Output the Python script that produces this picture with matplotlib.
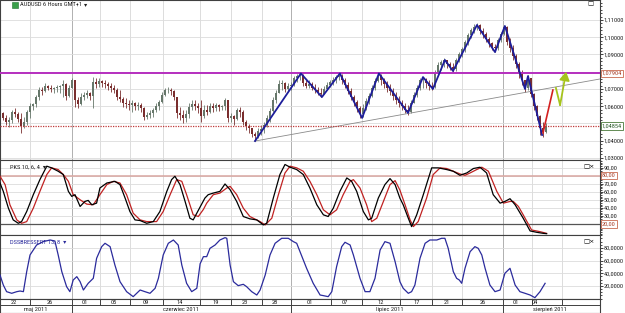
import matplotlib
matplotlib.use("Agg")
import matplotlib.pyplot as plt
import matplotlib.transforms as mtransforms
from matplotlib import font_manager
from matplotlib.patches import Rectangle
from matplotlib.ticker import FuncFormatter, MultipleLocator
import numpy as np


def pick_font(names):
    for n in names:
        try:
            font_manager.findfont(font_manager.FontProperties(family=n), fallback_to_default=False)
            return n
        except Exception:
            pass
    return 'DejaVu Sans'


FONT = pick_font(['Liberation Sans Narrow', 'Roboto Condensed', 'Open Sans Condensed', 'Liberation Sans'])
plt.rcParams['font.family'] = [FONT, 'DejaVu Sans']
fs = 4.6 if 'Narrow' in FONT or 'Condensed' in FONT else 3.9

# AUDUSD 6h bars (bar index = position on the time axis)
first_open = 1.0636
closes = [
    1.0561, 1.0532, 1.0508, 1.0520, 1.0566, 1.0555, 1.0526, 1.0485, 1.0508, 1.0566,
    1.0601, 1.0613, 1.0653, 1.0694, 1.0688, 1.0717, 1.0706, 1.0700, 1.0706, 1.0711,
    1.0717, 1.0729, 1.0659, 1.0706, 1.0752, 1.0636, 1.0613, 1.0653, 1.0665, 1.0677,
    1.0659, 1.0740, 1.0729, 1.0746, 1.0735, 1.0729, 1.0717, 1.0706, 1.0694, 1.0653,
    1.0642, 1.0619, 1.0613, 1.0607, 1.0619, 1.0601, 1.0607, 1.0590, 1.0537, 1.0549,
    1.0561, 1.0578, 1.0601, 1.0624, 1.0665, 1.0694, 1.0694, 1.0688, 1.0653, 1.0561,
    1.0549, 1.0532, 1.0555, 1.0595, 1.0613, 1.0601, 1.0590, 1.0543, 1.0578, 1.0566,
    1.0601, 1.0590, 1.0607, 1.0595, 1.0601, 1.0636, 1.0532, 1.0543, 1.0526, 1.0578,
    1.0566, 1.0508, 1.0485, 1.0474, 1.0439, 1.0427, 1.0456, 1.0468, 1.0491, 1.0532,
    1.0572, 1.0636, 1.0677, 1.0729, 1.0735, 1.0700, 1.0717, 1.0723, 1.0764, 1.0775,
    1.0781, 1.0735, 1.0717, 1.0729, 1.0706, 1.0694, 1.0677, 1.0671, 1.0700, 1.0723,
    1.0740, 1.0752, 1.0769, 1.0775, 1.0752, 1.0723, 1.0688, 1.0653, 1.0624, 1.0590,
    1.0555, 1.0590, 1.0630, 1.0659, 1.0706, 1.0746, 1.0775, 1.0752, 1.0729, 1.0706,
    1.0688, 1.0659, 1.0636, 1.0619, 1.0601, 1.0578, 1.0566, 1.0619, 1.0665, 1.0706,
    1.0752, 1.0758, 1.0735, 1.0717, 1.0711, 1.0793, 1.0839, 1.0856, 1.0868, 1.0845,
    1.0827, 1.0816, 1.0868, 1.0903, 1.0932, 1.0972, 1.1013, 1.1042, 1.1059, 1.1071,
    1.1036, 1.1019, 1.0990, 1.0967, 1.0943, 1.0938, 1.0984, 1.1019, 1.1059, 1.0972,
    1.0938, 1.0891, 1.0845, 1.0793, 1.0752, 1.0706, 1.0764, 1.0671, 1.0601, 1.0543,
    1.0474, 1.0450, 1.0485,
]
highs = [
    1.0642, 1.0566, 1.0549, 1.0537, 1.0578, 1.0590, 1.0566, 1.0561, 1.0537, 1.0578,
    1.0619, 1.0619, 1.0665, 1.0711, 1.0711, 1.0735, 1.0723, 1.0723, 1.0711, 1.0723,
    1.0723, 1.0752, 1.0735, 1.0723, 1.0764, 1.0752, 1.0653, 1.0677, 1.0682, 1.0694,
    1.0682, 1.0769, 1.0764, 1.0764, 1.0752, 1.0752, 1.0740, 1.0735, 1.0723, 1.0706,
    1.0694, 1.0653, 1.0648, 1.0636, 1.0636, 1.0624, 1.0624, 1.0619, 1.0595, 1.0566,
    1.0578, 1.0590, 1.0619, 1.0636, 1.0682, 1.0706, 1.0711, 1.0706, 1.0694, 1.0653,
    1.0595, 1.0578, 1.0578, 1.0619, 1.0636, 1.0636, 1.0619, 1.0636, 1.0607, 1.0607,
    1.0619, 1.0619, 1.0619, 1.0613, 1.0607, 1.0648, 1.0636, 1.0561, 1.0549, 1.0590,
    1.0595, 1.0578, 1.0520, 1.0497, 1.0474, 1.0450, 1.0474, 1.0491, 1.0508, 1.0549,
    1.0590, 1.0653, 1.0694, 1.0752, 1.0752, 1.0740, 1.0735, 1.0740, 1.0775, 1.0787,
    1.0798, 1.0787, 1.0752, 1.0752, 1.0740, 1.0729, 1.0711, 1.0706, 1.0717, 1.0740,
    1.0752, 1.0769, 1.0781, 1.0793, 1.0787, 1.0764, 1.0740, 1.0706, 1.0665, 1.0636,
    1.0601, 1.0613, 1.0648, 1.0677, 1.0723, 1.0764, 1.0793, 1.0787, 1.0764, 1.0746,
    1.0729, 1.0706, 1.0682, 1.0659, 1.0636, 1.0619, 1.0607, 1.0636, 1.0682, 1.0723,
    1.0764, 1.0769, 1.0764, 1.0752, 1.0740, 1.0810, 1.0856, 1.0868, 1.0880, 1.0868,
    1.0856, 1.0851, 1.0880, 1.0914, 1.0943, 1.0984, 1.1025, 1.1054, 1.1077, 1.1083,
    1.1077, 1.1054, 1.1030, 1.1001, 1.0972, 1.0961, 1.0996, 1.1030, 1.1071, 1.1065,
    1.0996, 1.0955, 1.0903, 1.0856, 1.0810, 1.0752, 1.0781, 1.0764, 1.0677, 1.0607,
    1.0549, 1.0508, 1.0503,
]
lows = [
    1.0549, 1.0520, 1.0491, 1.0479, 1.0503, 1.0537, 1.0508, 1.0445, 1.0474, 1.0491,
    1.0532, 1.0578, 1.0595, 1.0636, 1.0665, 1.0682, 1.0694, 1.0682, 1.0677, 1.0682,
    1.0677, 1.0653, 1.0636, 1.0653, 1.0706, 1.0595, 1.0590, 1.0607, 1.0636, 1.0648,
    1.0636, 1.0590, 1.0706, 1.0711, 1.0711, 1.0706, 1.0694, 1.0682, 1.0677, 1.0636,
    1.0624, 1.0595, 1.0590, 1.0578, 1.0566, 1.0578, 1.0578, 1.0566, 1.0520, 1.0526,
    1.0532, 1.0537, 1.0566, 1.0578, 1.0619, 1.0659, 1.0677, 1.0665, 1.0636, 1.0532,
    1.0520, 1.0503, 1.0508, 1.0532, 1.0578, 1.0578, 1.0561, 1.0508, 1.0532, 1.0549,
    1.0561, 1.0566, 1.0572, 1.0572, 1.0578, 1.0578, 1.0508, 1.0508, 1.0491, 1.0520,
    1.0537, 1.0491, 1.0462, 1.0445, 1.0421, 1.0398, 1.0416, 1.0433, 1.0445, 1.0479,
    1.0508, 1.0566, 1.0619, 1.0677, 1.0694, 1.0682, 1.0688, 1.0694, 1.0717, 1.0740,
    1.0752, 1.0717, 1.0706, 1.0706, 1.0694, 1.0677, 1.0665, 1.0653, 1.0671, 1.0694,
    1.0711, 1.0723, 1.0735, 1.0752, 1.0729, 1.0706, 1.0671, 1.0636, 1.0601, 1.0566,
    1.0532, 1.0537, 1.0578, 1.0613, 1.0653, 1.0694, 1.0740, 1.0723, 1.0706, 1.0682,
    1.0665, 1.0636, 1.0613, 1.0595, 1.0578, 1.0561, 1.0549, 1.0561, 1.0619, 1.0653,
    1.0694, 1.0706, 1.0706, 1.0694, 1.0694, 1.0706, 1.0781, 1.0810, 1.0827, 1.0822,
    1.0810, 1.0798, 1.0804, 1.0856, 1.0885, 1.0914, 1.0955, 1.0996, 1.1025, 1.1042,
    1.1019, 1.0996, 1.0972, 1.0943, 1.0926, 1.0914, 1.0926, 1.0972, 1.1013, 1.0955,
    1.0914, 1.0868, 1.0822, 1.0764, 1.0723, 1.0682, 1.0694, 1.0653, 1.0578, 1.0520,
    1.0433, 1.0421, 1.0445,
]

# drawn analysis
zz_x = [85, 100.3, 107.3, 113.3, 120.7, 126.3, 136, 141, 144.3, 148.3, 151, 159, 165, 168.3, 175, 176, 180.7]
zz_p = [1.0398, 1.0790, 1.0653, 1.0790, 1.0532, 1.0790, 1.0561, 1.0769, 1.0700, 1.0868,
        1.0804, 1.1071, 1.0914, 1.1065, 1.0700, 1.0775, 1.0433]
trend_x = [85, 200]
trend_p = [1.0398, 1.0758]
resist = 1.07904
support = 1.04854
red_x = [181, 184.3]
red_p = [1.0445, 1.0694]
green_x = [185.3, 186.7, 188.7]
green_p = [1.0706, 1.0607, 1.0800]
price_ticks = [1.03, 1.04, 1.05, 1.06, 1.07, 1.08, 1.09, 1.10, 1.11]

# PKS 10,6,4 (stochastic)
k_x = [0, 1.1, 2.8, 4.4, 6.1, 7.2, 8.9, 11.1, 13.3, 15.6, 17.2, 19.4, 21.1, 22.8, 23.9, 25, 26.7, 28.3,
       29.4, 30.6, 32.2, 33.3, 35.6, 38.3, 40, 41.7, 43.3, 45, 46.7, 48.9, 51.1, 53.3, 55.6, 57.2, 58.3,
       60, 61.7, 63.3, 64.4, 66.7, 68.3, 69.4, 71.1, 73.3, 75, 76.7, 78.9, 81.1, 83.3, 85.6, 87.8, 88.9,
       91.1, 93.3, 95, 96.7, 98.9, 101.1, 103.3, 105.6, 107.8, 109.4, 111.1, 113.3, 115.6, 117.2, 118.9,
       121.1, 122.8, 123.9, 126.1, 128.3, 130, 131.7, 133.3, 134.4, 136.1, 137.2, 138.9, 141.1, 143.9,
       146.1, 148.9, 151.1, 153.3, 155.6, 157.8, 160, 162.2, 164.4, 166.7, 168.3, 170, 171.7, 174.4,
       176.7, 178.9, 181.1, 182.2]
k_v = [70.8, 60.4, 39.6, 25.0, 20.8, 22.9, 35.4, 56.3, 75.0, 91.7, 89.6, 85.4, 81.3, 60.4, 54.2, 56.3,
       41.7, 47.9, 49.2, 43.8, 45.8, 64.6, 70.8, 72.9, 68.8, 52.1, 35.4, 25.0, 24.2, 20.8, 22.9, 35.4,
       60.4, 75.0, 79.2, 68.8, 47.9, 27.1, 25.0, 41.0, 52.1, 56.3, 58.3, 60.4, 69.6, 62.5, 47.9, 29.2,
       26.3, 25.0, 18.8, 20.8, 52.1, 81.3, 93.8, 90.4, 87.5, 81.3, 64.6, 43.8, 31.3, 29.2, 39.6, 60.4,
       77.1, 72.9, 60.4, 35.4, 25.0, 27.1, 52.1, 68.8, 76.3, 68.8, 52.0, 43.8, 27.1, 16.7, 31.3, 56.3,
       89.6, 89.6, 87.5, 85.4, 80.4, 83.3, 88.8, 90.4, 83.3, 56.3, 45.8, 47.9, 51.3, 43.8, 27.1, 11.3,
       9.6, 8.3, 7.9]
d_x = [0, 1.7, 3.3, 5.6, 7.2, 8.9, 11.1, 13.3, 15.6, 17.2, 19.4, 21.1, 22.8, 24.4, 26.7, 28.9, 31.1,
       33.3, 35.6, 37.8, 40, 42.2, 44.4, 46.7, 48.9, 52.2, 54.4, 56.7, 58.9, 60.6, 62.2, 64.4, 66.1,
       67.8, 68.9, 71.1, 73.3, 75.6, 76.7, 78.9, 81.1, 83.3, 86.7, 88.4, 90.6, 92.8, 95, 96.7, 98.9,
       101.1, 103.3, 105.6, 107.8, 110, 112.2, 114.4, 116.7, 117.8, 120, 122.2, 123.9, 125.6, 127.8,
       130, 131.7, 133.3, 135, 136.7, 137.8, 139.4, 142.2, 144.4, 146.7, 148.9, 151.1, 153.3, 155,
       156.7, 158.9, 160.6, 162.8, 165.6, 167.8, 170, 171.1, 172.8, 174.4, 177.2, 180, 182.2]
d_v = [79.2, 68.8, 43.8, 25.0, 20.8, 22.9, 39.6, 60.4, 81.3, 89.6, 87.5, 81.3, 72.9, 56.3, 50.0, 44.6,
       43.8, 56.3, 68.8, 72.9, 70.8, 56.3, 33.3, 25.0, 22.9, 22.9, 35.4, 56.3, 75.0, 72.9, 56.3, 31.3,
       29.2, 38.0, 45.8, 56.3, 58.3, 64.6, 66.7, 56.3, 39.6, 29.2, 22.9, 18.8, 27.1, 56.3, 83.3, 91.7,
       89.6, 85.4, 72.9, 56.3, 37.5, 31.3, 37.5, 56.3, 72.9, 75.0, 64.6, 43.8, 22.9, 27.1, 47.9, 68.8,
       73.8, 62.0, 44.0, 25.0, 16.7, 22.9, 52.1, 81.3, 89.6, 88.8, 85.4, 82.1, 80.4, 83.3, 87.5, 90.4,
       85.4, 60.4, 45.8, 47.9, 47.9, 41.7, 31.3, 12.5, 10.4, 8.3]

# DSSBRESSERT 13,8
dss_x = [0, 1.1, 2.2, 3.9, 5.6, 6.7, 7.8, 8.9, 10, 12.2, 14.4, 16.7, 18.3, 19.4, 20.6, 22.2, 23.3, 24.4,
         25.6, 26.7, 27.8, 29.4, 31.1, 32.2, 33.9, 35, 36.7, 38.3, 40, 42.2, 44.4, 46.7, 48.3, 50, 51.7,
         52.8, 54.4, 56.1, 57.8, 59.4, 60.6, 62.2, 63.9, 65.6, 66.7, 67.8, 68.9, 70, 71.7, 73.3, 75, 75.6,
         76.7, 77.8, 79.4, 81.1, 82.2, 83.9, 85.6, 86.7, 88.4, 90, 91.7, 93.9, 96.1, 97.8, 98.9, 100,
         102.2, 104.4, 106.7, 107.8, 109.4, 110.6, 112.2, 113.9, 115, 116.7, 117.8, 120, 121.7, 123.3,
         125, 126.7, 128.3, 130, 131.7, 133.3, 134.4, 136.1, 137.2, 138.3, 140, 141.7, 143.3, 145.6,
         147.2, 148.3, 149.4, 151.1, 152.2, 153.1, 153.9, 155, 156.7, 158.3, 159.4, 160.6, 161.7, 163.3,
         165, 166.7, 168.3, 170, 171.7, 173.3, 175, 176.7, 178.3, 180, 181.7]
dss_v = [37.3, 21.5, 11.0, 8.4, 11.0, 12.0, 11.0, 42.6, 68.9, 84.7, 90.0, 92.6, 91.0, 68.9, 42.6, 18.9,
         11.0, 29.4, 34.7, 26.8, 13.6, 24.2, 32.1, 63.7, 82.1, 87.4, 82.1, 53.1, 26.8, 11.0, 3.1, 13.6,
         11.0, 8.4, 16.3, 32.1, 68.9, 87.4, 92.6, 84.7, 53.1, 24.2, 11.0, 16.3, 55.0, 66.3, 66.3, 79.5,
         84.7, 92.6, 96.3, 95.3, 53.1, 26.8, 20.5, 22.6, 18.9, 11.0, 5.7, 13.6, 37.3, 68.9, 87.4, 95.3,
         95.3, 90.0, 87.4, 74.2, 47.9, 24.2, 5.7, 4.7, 3.1, 11.0, 50.5, 82.1, 89.0, 84.7, 68.9, 32.1,
         11.0, 11.0, 32.1, 76.8, 90.0, 87.4, 58.4, 26.8, 16.3, 8.4, 11.0, 21.5, 63.7, 87.4, 92.6, 92.6,
         95.3, 95.3, 79.5, 42.6, 32.1, 29.4, 24.2, 47.9, 74.2, 82.1, 79.5, 68.9, 47.9, 21.5, 11.0, 13.6,
         40.0, 47.9, 21.5, 11.0, 8.4, 5.7, 1.5, 11.0, 24.2]

# time axis
day_sep = [10, 24, 33.3, 43.3, 54.3, 66.7, 77, 87.3, 97, 110.3, 120.7, 133.3, 144, 154, 167.7, 177.3, 187.3]
month_sep = [24, 97, 167.7]
day_pos = [4.7, 16.7, 28.3, 38, 48.7, 60, 72, 81.7, 91.7, 103.3, 115, 127, 139, 149, 161, 172, 178.3]
day_lbl = ["22", "26", "01", "05", "09", "14", "19", "23", "28", "01", "07", "12", "17", "21", "26", "01", "04"]
month_pos = [12, 60.3, 130, 183.3]
month_lbl = ["maj 2011", "czerwiec 2011", "lipiec 2011", "sierpień 2011"]

W, H = 625, 313
XMAX = 599.5 / 3
fig = plt.figure(figsize=(W / 100, H / 100), dpi=100, facecolor='white')


def panel(top, bottom):
    return fig.add_axes([0, 1 - bottom / H, 599.5 / W, (bottom - top) / H])


ax = panel(0, 160)
ax_k = panel(160.5, 235)
ax_d = panel(235, 299)
ax_t = panel(299, 313)

grid_c = '#dcdcdc'
for a in (ax, ax_k, ax_d):
    a.set_xlim(0, XMAX)
    a.set_facecolor('white')
    for s in a.spines.values():
        s.set_color('#404040')
        s.set_linewidth(0.8)
    a.yaxis.tick_right()
    a.tick_params(axis='y', labelsize=fs, length=2, width=0.6, pad=1, colors='#202020')
    a.tick_params(axis='y', which='minor', length=1.2, width=0.5, right=True)
    a.tick_params(axis='x', bottom=False, labelbottom=False)
    a.set_axisbelow(True)
    a.grid(axis='y', color=grid_c, lw=0.6)
    for xs in day_sep:
        a.axvline(xs, color='#b0b0b0' if xs in month_sep else grid_c, lw=0.7, zorder=0)

# price panel
x = np.arange(len(closes))
o = np.array([first_open] + closes[:-1])
c = np.array(closes)
up = c >= o
cols = np.where(up, '#66776a', '#7a2e2e')
ax.vlines(x, lows, highs, colors=cols, lw=0.6, zorder=2)
ax.bar(x, np.abs(c - o), bottom=np.minimum(o, c), width=0.6, color=cols, zorder=2)

ax.plot(trend_x, trend_p, color='#8a8a8a', lw=0.6, zorder=3)
ax.axhline(resist, color='#b52fbf', lw=1.4, zorder=3)
ax.axhline(support, color='#c03a3a', lw=0.9, ls=(0, (1, 1)), zorder=3)
ax.plot(zz_x, zz_p, color='#1d1d9a', lw=1.3, zorder=4)
ax.plot(red_x, red_p, color='#d42020', lw=1.2, zorder=4)
ax.plot(green_x[:2], green_p[:2], color='#a6c41c', lw=1.3, zorder=4)
ax.annotate('', xy=(green_x[2], green_p[2]), xytext=(green_x[1], green_p[1]),
            arrowprops=dict(arrowstyle='-|>,head_length=0.5,head_width=0.3', color='#a6c41c',
                            lw=1.3, shrinkA=0, shrinkB=0), zorder=4)

ax.set_ylim(1.0288, 1.1216)
ax.set_yticks(price_ticks)
ax.set_yticklabels(["" if t in (1.05, 1.08) else f"{t:.5f}".replace('.', ',') for t in price_ticks])
ax.yaxis.set_minor_locator(MultipleLocator(0.002))

ytr = mtransforms.blended_transform_factory(ax.transAxes, ax.transData)
ax.text(1.004, resist, "1,07904", transform=ytr, fontsize=fs, color='#a8402a', va='center',
        ha='left', clip_on=False, zorder=6,
        bbox=dict(boxstyle='square,pad=0.2', fc='white', ec='#c86a50', lw=0.6))
ax.text(1.004, support, "1,04854", transform=ytr, fontsize=fs, color='#2d5d2d', va='center',
        ha='left', clip_on=False, zorder=6,
        bbox=dict(boxstyle='square,pad=0.2', fc='white', ec='#4a7a3a', lw=0.6))

ax.add_patch(Rectangle((12 / 599.5, 1 - 8 / 160), 6 / 599.5, 6 / 160, transform=ax.transAxes,
                       fc='#3aa04a', ec='#207030', lw=0.4, zorder=6))
ax.text(20 / 599.5, 1 - 4.5 / 160, "AUDUSD 6 Hours GMT+1", transform=ax.transAxes, fontsize=fs,
        color='#202020', va='center', ha='left', zorder=6)
ax.text(84 / 599.5, 1 - 4.5 / 160, "▾", transform=ax.transAxes, fontsize=fs, color='#202020',
        va='center', ha='left', family='DejaVu Sans')
ax.text(0.984, 1 - 4 / 160, "□", transform=ax.transAxes, fontsize=fs, va='center', ha='center',
        family='DejaVu Sans')

# stochastic panel
ax_k.axhline(80, color='#d9a5a0', lw=1.1, zorder=1)
ax_k.axhline(20, color='#555555', lw=0.9, zorder=1)
ax_k.plot(d_x, d_v, color='#c02222', lw=0.9, zorder=3)
ax_k.plot(k_x, k_v, color='#000000', lw=0.9, zorder=4)
ax_k.set_ylim(6.25, 98.75)
ax_k.yaxis.set_minor_locator(MultipleLocator(2))
ax_k.set_yticks([20, 30, 40, 50, 60, 70, 80, 90])
ax_k.set_yticklabels(["", "30,00", "40,00", "50,00", "60,00", "70,00", "", "90,00"])
ktr = mtransforms.blended_transform_factory(ax_k.transAxes, ax_k.transData)
for lv in (80, 20):
    ax_k.text(1.004, lv, f"{lv},00", transform=ktr, fontsize=fs, color='#a8402a', va='center',
              ha='left', clip_on=False, bbox=dict(boxstyle='square,pad=0.2', fc='white',
                                                  ec='#c86a50', lw=0.6))
ax_k.text(10 / 599.5, 0.915, "PKS 10, 6, 4  ▾", transform=ax_k.transAxes, fontsize=fs,
          color='#202020', va='center', ha='left', zorder=6)
ax_k.text(0.982, 0.915, "□×", transform=ax_k.transAxes, fontsize=fs, va='center', ha='center',
          family='DejaVu Sans')

# DSS panel
ax_d.plot(dss_x, dss_v, color='#2b2b9c', lw=0.9, zorder=3)
ax_d.set_ylim(-0.6, 100.5)
ax_d.set_yticks([20, 40, 60, 80])
ax_d.yaxis.set_minor_locator(MultipleLocator(5))
ax_d.yaxis.set_major_formatter(FuncFormatter(lambda v, p: f"{v:.4f}".replace('.', ',')))
ax_d.text(10 / 599.5, 0.89, "DSSBRESSERT 13, 8  ▾", transform=ax_d.transAxes, fontsize=fs,
          color='#2b2b9c', va='center', ha='left', zorder=6)
ax_d.text(0.982, 0.89, "□×", transform=ax_d.transAxes, fontsize=fs, va='center', ha='center',
          family='DejaVu Sans')

# time axis
ax_t.set_xlim(0, XMAX)
ax_t.set_ylim(0, 2)
ax_t.set_xticks([])
ax_t.set_yticks([])
for s in ax_t.spines.values():
    s.set_color('#404040')
    s.set_linewidth(0.8)
ax_t.axhline(1.1, color='#404040', lw=0.7)
ax_t.vlines(day_sep, 1.1, 2, color='#404040', lw=0.7)
ax_t.vlines(month_sep, 0, 1.1, color='#404040', lw=0.7)
for xp, t in zip(day_pos, day_lbl):
    ax_t.text(xp, 1.55, t, fontsize=fs, ha='center', va='center', color='#202020')
for xp, t in zip(month_pos, month_lbl):
    ax_t.text(xp, 0.5, t, fontsize=fs, ha='center', va='center', color='#202020')

fig.savefig("out.png", dpi=100, facecolor='white')
